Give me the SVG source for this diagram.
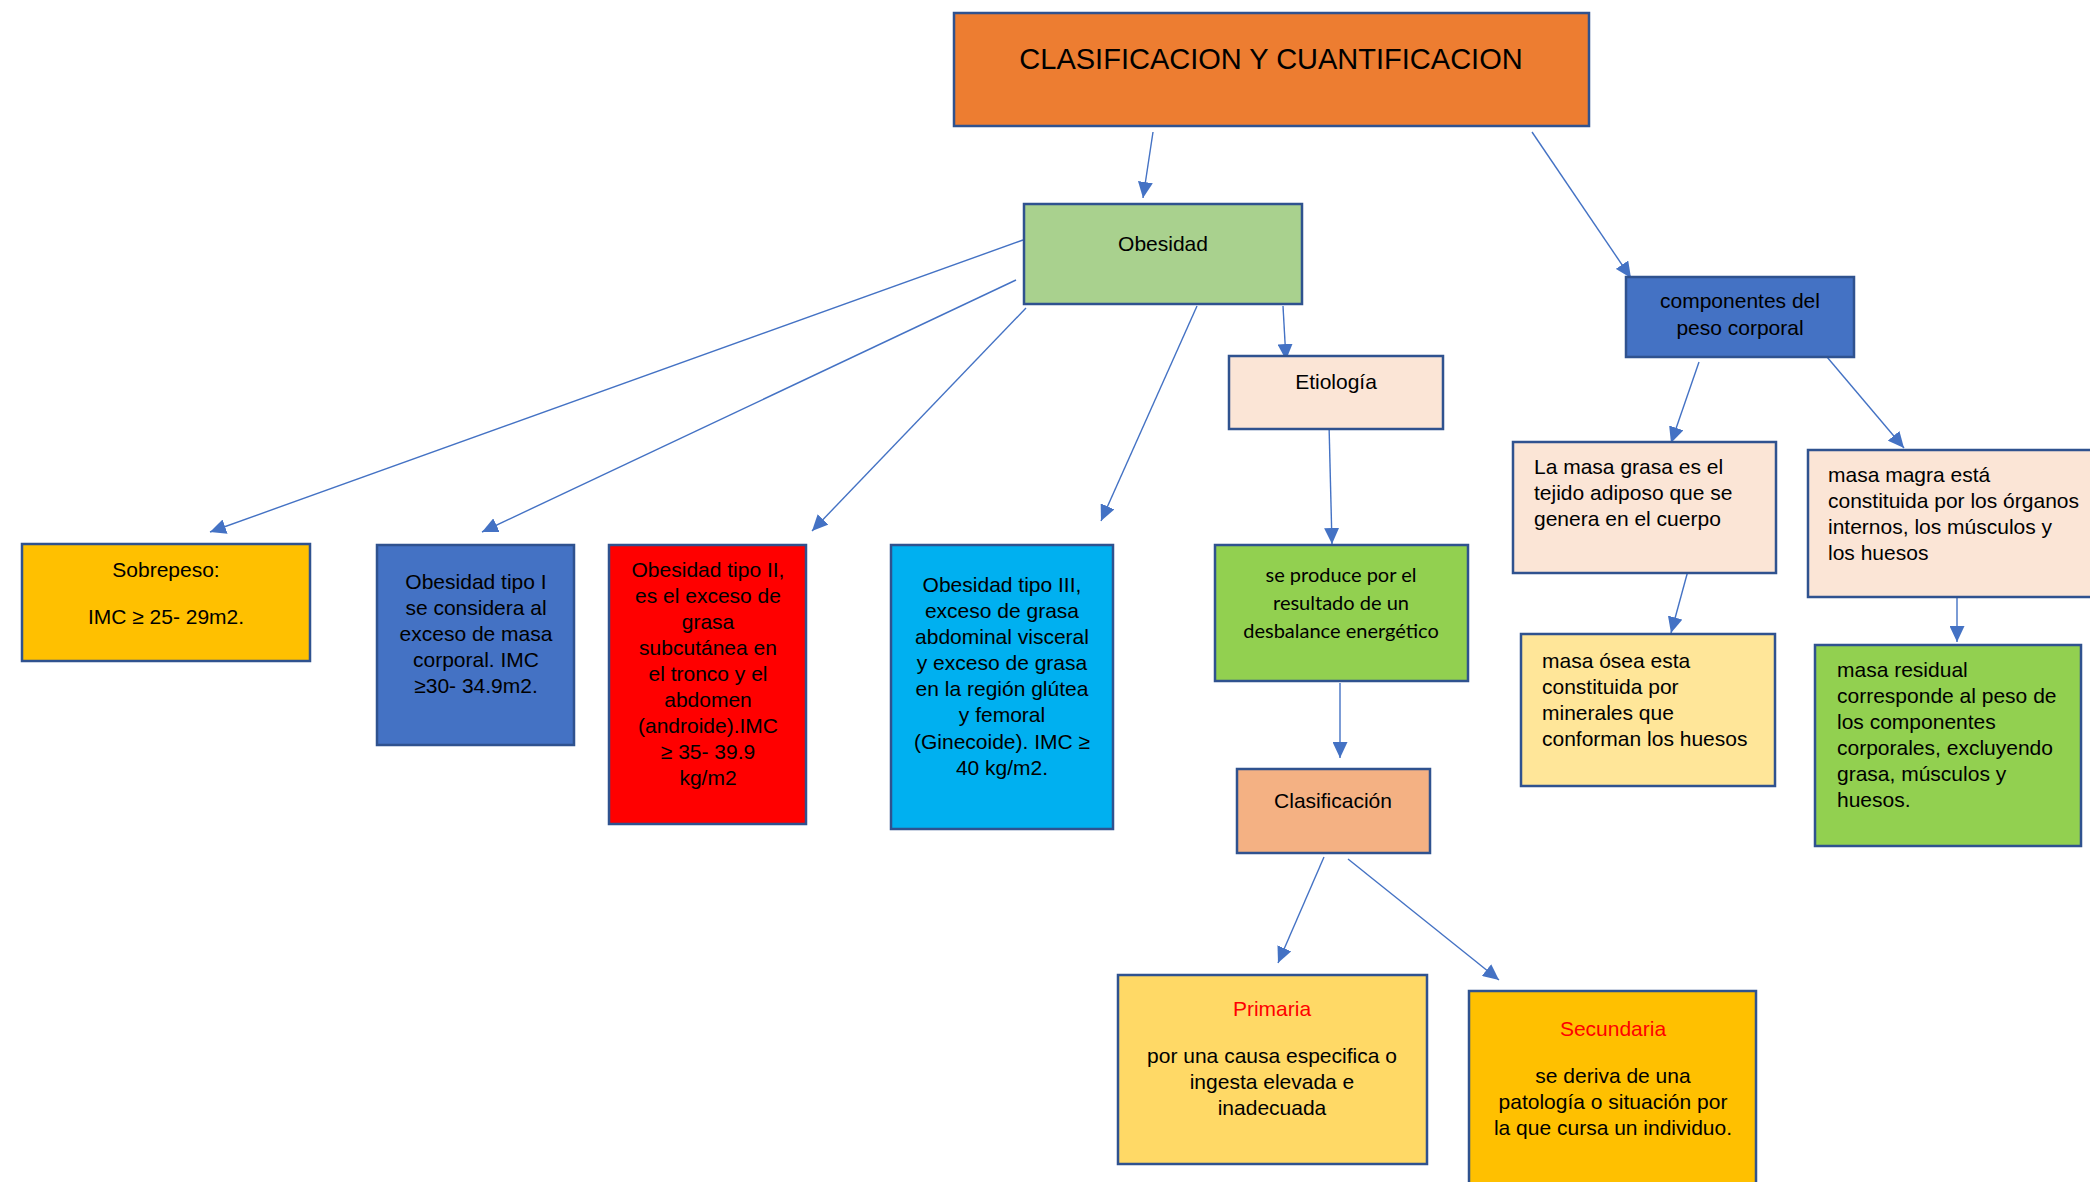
<svg xmlns="http://www.w3.org/2000/svg" width="2090" height="1182" viewBox="0 0 2090 1182">
<style>
.box{stroke:#2F528F;stroke-width:2.5}
.t{font-family:"Liberation Sans",Arial,sans-serif;font-size:21px;fill:#000}
.c{text-anchor:middle}
.cal{font-family:Lato,"Liberation Sans",sans-serif;font-size:20px;fill:#000;text-anchor:middle}
.red{fill:#FF0000}
.ln{stroke:#4472C4;stroke-width:1.4;fill:none;marker-end:url(#ah)}
</style>
<defs>
<marker id="ah" markerUnits="userSpaceOnUse" markerWidth="17" markerHeight="15" refX="16" refY="7.5" orient="auto">
<path d="M0,0 L16,7.5 L0,15 z" fill="#4472C4"/>
</marker>
</defs>
<rect width="2090" height="1182" fill="#fff"/>
<g id="connectors">
<line class="ln" x1="1153" y1="132" x2="1143" y2="198"/>
<line class="ln" x1="1532" y1="132" x2="1631" y2="278"/>
<line class="ln" x1="1023" y1="240" x2="210" y2="532"/>
<line class="ln" x1="1016" y1="280" x2="482" y2="532"/>
<line class="ln" x1="1026" y1="308" x2="812" y2="531"/>
<line class="ln" x1="1197" y1="306" x2="1101" y2="521"/>
<line class="ln" x1="1283" y1="306" x2="1286" y2="360"/>
<line class="ln" x1="1329" y1="424" x2="1332" y2="544"/>
<line class="ln" x1="1340" y1="683" x2="1340" y2="758"/>
<line class="ln" x1="1324" y1="857" x2="1278" y2="963"/>
<line class="ln" x1="1348" y1="859" x2="1499" y2="980"/>
<line class="ln" x1="1699" y1="362" x2="1671" y2="443"/>
<line class="ln" x1="1827" y1="357" x2="1904" y2="448"/>
<line class="ln" x1="1689" y1="567" x2="1671" y2="633"/>
<line class="ln" x1="1957" y1="588" x2="1957" y2="642"/>
</g>
<g id="title">
<rect class="box" x="954" y="13" width="635" height="113" fill="#ED7D31"/>
<text class="t c" x="1271" y="69" style="font-size:29px">CLASIFICACION Y CUANTIFICACION</text>
</g>
<g id="obesidad">
<rect class="box" x="1024" y="204" width="278" height="100" fill="#A9D18E"/>
<text class="t c" x="1163" y="251">Obesidad</text>
</g>
<g id="componentes">
<rect class="box" x="1626" y="277" width="228" height="80" fill="#4472C4"/>
<text class="t c" x="1740" y="308">componentes del</text>
<text class="t c" x="1740" y="335">peso corporal</text>
</g>
<g id="etiologia">
<rect class="box" x="1229" y="356" width="214" height="73" fill="#FBE5D6"/>
<text class="t c" x="1336" y="389">Etiología</text>
</g>
<g id="sobrepeso">
<rect class="box" x="22" y="544" width="288" height="117" fill="#FFC000"/>
<text class="t c" x="166" y="577">Sobrepeso:</text>
<text class="t c" x="166" y="624">IMC ≥ 25- 29m2.</text>
</g>
<g id="tipo1">
<rect class="box" x="377" y="545" width="197" height="200" fill="#4472C4"/>
<text class="t c" x="476" y="589">Obesidad tipo I</text>
<text class="t c" x="476" y="615">se considera al</text>
<text class="t c" x="476" y="641">exceso de masa</text>
<text class="t c" x="476" y="667">corporal. IMC</text>
<text class="t c" x="476" y="693">≥30- 34.9m2.</text>
</g>
<g id="tipo2">
<rect class="box" x="609" y="545" width="197" height="279" fill="#FF0000"/>
<text class="t c" x="708" y="577">Obesidad tipo II,</text>
<text class="t c" x="708" y="603">es el exceso de</text>
<text class="t c" x="708" y="629">grasa</text>
<text class="t c" x="708" y="655">subcutánea en</text>
<text class="t c" x="708" y="681">el tronco y el</text>
<text class="t c" x="708" y="707">abdomen</text>
<text class="t c" x="708" y="733">(androide).IMC</text>
<text class="t c" x="708" y="759">≥ 35- 39.9</text>
<text class="t c" x="708" y="785">kg/m2</text>
</g>
<g id="tipo3">
<rect class="box" x="891" y="545" width="222" height="284" fill="#00B0F0"/>
<text class="t c" x="1002" y="592">Obesidad tipo III,</text>
<text class="t c" x="1002" y="618">exceso de grasa</text>
<text class="t c" x="1002" y="644">abdominal visceral</text>
<text class="t c" x="1002" y="670">y exceso de grasa</text>
<text class="t c" x="1002" y="696">en la región glútea</text>
<text class="t c" x="1002" y="722">y femoral</text>
<text class="t c" x="1002" y="749">(Ginecoide). IMC ≥</text>
<text class="t c" x="1002" y="775">40 kg/m2.</text>
</g>
<g id="seproduce">
<rect class="box" x="1215" y="545" width="253" height="136" fill="#92D050"/>
<text class="cal" x="1341" y="582">se produce por el</text>
<text class="cal" x="1341" y="610">resultado de un</text>
<text class="cal" x="1341" y="638">desbalance energético</text>
</g>
<g id="clasificacion">
<rect class="box" x="1237" y="769" width="193" height="84" fill="#F4B183"/>
<text class="t c" x="1333" y="808">Clasificación</text>
</g>
<g id="primaria">
<rect class="box" x="1118" y="975" width="309" height="189" fill="#FFD966"/>
<text class="t c red" x="1272" y="1016">Primaria</text>
<text class="t c" x="1272" y="1063">por una causa especifica o</text>
<text class="t c" x="1272" y="1089">ingesta elevada e</text>
<text class="t c" x="1272" y="1115">inadecuada</text>
</g>
<g id="secundaria">
<rect class="box" x="1469" y="991" width="287" height="220" fill="#FFC000"/>
<text class="t c red" x="1613" y="1036">Secundaria</text>
<text class="t c" x="1613" y="1083">se deriva de una</text>
<text class="t c" x="1613" y="1109">patología o situación por</text>
<text class="t c" x="1613" y="1135">la que cursa un individuo.</text>
</g>
<g id="masagrasa">
<rect class="box" x="1513" y="442" width="263" height="131" fill="#FBE5D6"/>
<text class="t" x="1534" y="474">La masa grasa es el</text>
<text class="t" x="1534" y="500">tejido adiposo que se</text>
<text class="t" x="1534" y="526">genera en el cuerpo</text>
</g>
<g id="masamagra">
<rect class="box" x="1808" y="450" width="300" height="147" fill="#FBE5D6"/>
<text class="t" x="1828" y="482">masa magra está</text>
<text class="t" x="1828" y="508">constituida por los órganos</text>
<text class="t" x="1828" y="534">internos, los músculos y</text>
<text class="t" x="1828" y="560">los huesos</text>
</g>
<g id="masaosea">
<rect class="box" x="1521" y="634" width="254" height="152" fill="#FFE699"/>
<text class="t" x="1542" y="668">masa ósea esta</text>
<text class="t" x="1542" y="694">constituida por</text>
<text class="t" x="1542" y="720">minerales que</text>
<text class="t" x="1542" y="746">conforman los huesos</text>
</g>
<g id="masaresidual">
<rect class="box" x="1815" y="645" width="266" height="201" fill="#92D050"/>
<text class="t" x="1837" y="677">masa residual</text>
<text class="t" x="1837" y="703">corresponde al peso de</text>
<text class="t" x="1837" y="729">los componentes</text>
<text class="t" x="1837" y="755">corporales, excluyendo</text>
<text class="t" x="1837" y="781">grasa, músculos y</text>
<text class="t" x="1837" y="807">huesos.</text>
</g>
</svg>
